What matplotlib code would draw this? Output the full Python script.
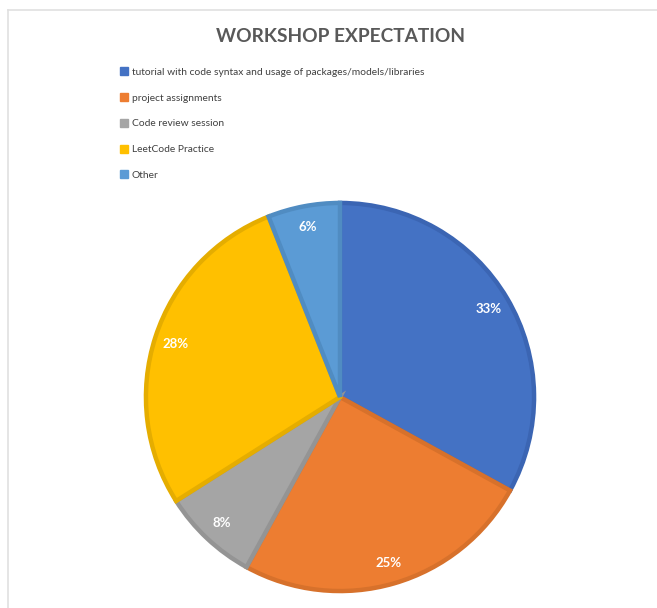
import matplotlib
matplotlib.use("Agg")
import matplotlib.pyplot as plt
from matplotlib.lines import Line2D

# Survey results: what people expect from the workshop (share of responses, %)
categories = [
    "tutorial with code syntax and usage of packages/models/libraries",
    "project assignments",
    "Code review session",
    "LeetCode Practice",
    "Other",
]
shares = [33, 25, 8, 28, 6]

fill_colors = ["#4472C4", "#ED7D31", "#A5A5A5", "#FFC000", "#5B9BD5"]
edge_colors = ["#3B65B3", "#D7712B", "#949494", "#E5AD00", "#508CC2"]

plt.rcParams["font.family"] = ["Lato", "DejaVu Sans"]

W, H = 657, 608
fig = plt.figure(figsize=(W / 100, H / 100), dpi=100)
fig.patch.set_facecolor("white")

# Chart frame (left and top edges visible)
fig.add_artist(Line2D([8 / W, 8 / W], [0, 1 - 10 / H], transform=fig.transFigure,
                      color="#E0E0E0", lw=1.2))
fig.add_artist(Line2D([8 / W, 1], [1 - 10 / H, 1 - 10 / H], transform=fig.transFigure,
                      color="#E0E0E0", lw=1.2))

# Title
fig.text(340 / W, 1 - 36 / H, "WORKSHOP EXPECTATION", ha="center", va="center",
         fontsize=13.8, fontweight="bold", color="#595959")

# Pie
cx, cy, r = 340, 397, 196
ax = fig.add_axes([(cx - r) / W, (H - cy - r) / H, 2 * r / W, 2 * r / H])
wedges, texts, autotexts = ax.pie(
    shares,
    colors=fill_colors,
    startangle=90,
    counterclock=False,
    radius=1.0,
    autopct=lambda p: f"{p:.0f}%",
    pctdistance=0.89,
    wedgeprops=dict(linewidth=3.2, joinstyle="miter"),
    textprops=dict(color="white", fontsize=9.5, fontweight="bold"),
)
for w, ec in zip(wedges, edge_colors):
    w.set_edgecolor(ec)
ax.set_xlim(-1.01, 1.01)
ax.set_ylim(-1.01, 1.01)
ax.set_aspect("equal")
ax.axis("off")

# Legend
handles = [Line2D([], [], linestyle="none", marker="s", markersize=5.2,
                  markerfacecolor=c, markeredgecolor=c) for c in fill_colors]
leg = fig.legend(handles, categories, loc="upper left",
                 bbox_to_anchor=(121 / W, 1 - 67.5 / H),
                 frameon=False, fontsize=7.4, labelcolor="#404040",
                 handlelength=0.6, handletextpad=0.45, labelspacing=1.62,
                 borderpad=0, borderaxespad=0)

fig.savefig("out.png", dpi=100, facecolor="white")
